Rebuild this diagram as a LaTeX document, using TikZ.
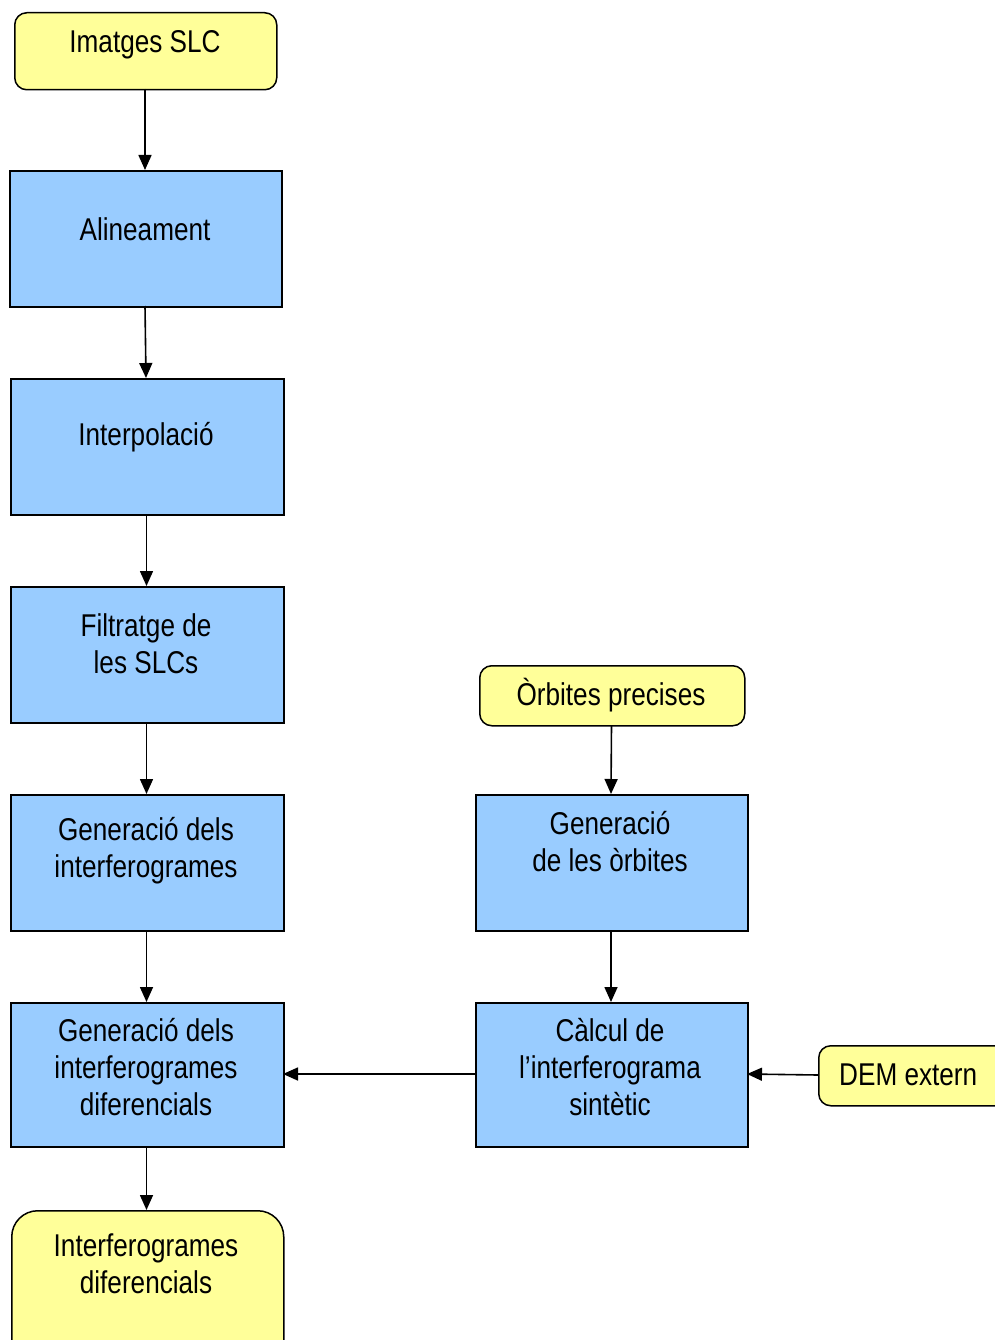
\documentclass[tikz,border=0pt]{standalone}
\usepackage{fontspec}
\setmainfont[FakeStretch=0.83]{Liberation Sans}
\usetikzlibrary{arrows.meta}
\definecolor{ylw}{HTML}{FFFF99}
\definecolor{blu}{HTML}{99CCFF}
\tikzset{
  box/.style={draw=black, line width=1.8pt, fill=blu, inner sep=0pt, anchor=north west},
  term/.style={draw=black, line width=1.5pt, fill=ylw, inner sep=0pt, anchor=north west, rounded corners=12pt},
  txt/.style={align=center, font=\fontsize{31.5}{37}\selectfont, inner sep=0pt},
  arr/.style={line width=1.6pt, -{Triangle[length=15pt,width=13pt]}}
}
\begin{document}
\begin{tikzpicture}[x=1pt,y=-1pt]
\useasboundingbox (0,0) rectangle (994,1340);
\node[term, minimum width=262pt, minimum height=77pt] (slc) at (14,12) {};
\node[box, minimum width=272pt, minimum height=136pt] (ali) at (9,170) {};
\node[box, minimum width=273pt, minimum height=136pt] (int) at (10,378) {};
\node[box, minimum width=273pt, minimum height=136pt] (fil) at (10,586) {};
\node[box, minimum width=273pt, minimum height=136pt] (gen) at (10,794) {};
\node[box, minimum width=273pt, minimum height=144pt] (gdif) at (10,1002) {};
\node[term, rounded corners=26pt, minimum width=272pt, minimum height=160pt] (out) at (11,1210) {};
\node[term, minimum width=265pt, minimum height=60pt] (orb) at (479,665) {};
\node[box, minimum width=272pt, minimum height=136pt] (gorb) at (475,794) {};
\node[box, minimum width=272pt, minimum height=144pt] (calc) at (475,1002) {};
\node[term, minimum width=200pt, minimum height=60pt] (dem) at (818,1045) {};

\node[txt] (tslc) at (145,45) {Imatges SLC};
\node[txt] (tali) at (145,229) {Alineament};
\node[txt] (tint) at (146,437) {Interpolació};
\node[txt] (tfil) at (146,643.5) {Filtratge de\\les SLCs};
\node[txt] (tgen) at (146,850.5) {Generació dels\\interferogrames};
\node[txt] (tgdif) at (146,1067.5) {Generació dels\\interferogrames\\diferencials};
\node[txt] (tout) at (146,1263.5) {Interferogrames\\diferencials};
\node[txt] (torb) at (611,695) {Òrbites precises};
\node[txt] (tgorb) at (610,842) {Generació\\de les òrbites};
\node[txt] (tcalc) at (610,1067.5) {Càlcul de\\l’interferograma\\sintètic};
\node[txt, anchor=west] (tdem) at (839,1075) {DEM extern};

\coordinate (a1) at (145,89); \coordinate (a2) at (145,170);
\coordinate (b1) at (145,306); \coordinate (b2) at (146,378);
\coordinate (c1) at (146.5,514); \coordinate (c2) at (146.5,586);
\coordinate (d1) at (146.5,722); \coordinate (d2) at (146.5,794);
\coordinate (e1) at (146.5,930); \coordinate (e2) at (146.5,1002);
\coordinate (f1) at (146.5,1146); \coordinate (f2) at (146.5,1210);
\coordinate (g1) at (611.5,725); \coordinate (g2) at (611,794);
\coordinate (h1) at (611,930); \coordinate (h2) at (611,1002);
\coordinate (i1) at (475,1074); \coordinate (i2) at (283,1074);
\coordinate (j1) at (818,1075); \coordinate (j2) at (747,1074);
\draw[arr] (a1) -- (a2);
\draw[arr] (b1) -- (b2);
\draw[arr] (c1) -- (c2);
\draw[arr] (d1) -- (d2);
\draw[arr] (e1) -- (e2);
\draw[arr] (f1) -- (f2);
\draw[arr] (g1) -- (g2);
\draw[arr] (h1) -- (h2);
\draw[arr] (i1) -- (i2);
\draw[arr] (j1) -- (j2);
\end{tikzpicture}
\end{document}
